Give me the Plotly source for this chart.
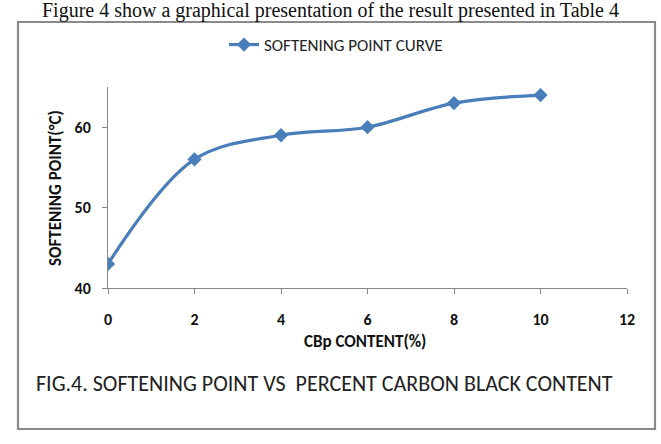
import plotly.graph_objects as go

cbp_content = [0, 2, 4, 6, 8, 10]
softening_point = [43, 56, 59, 60, 63, 64]
series_name = "SOFTENING POINT CURVE"
x_title = "CBp CONTENT(%)"
y_title = "SOFTENING POINT(°C)"
caption = "FIG.4. SOFTENING POINT VS  PERCENT CARBON BLACK CONTENT"
header = "Figure 4 show a graphical presentation of the result presented in Table 4"

W, H = 661, 444
L, R, T, B = 108, 627, 87, 288

def px(x):
    return (x - L) / (R - L)

def py(y):
    return (B - y) / (B - T)

FONT = "Carlito, Lato, Liberation Sans"
BLUE = "#4A7EBB"

fig = go.Figure()
fig.add_trace(go.Scatter(
    x=cbp_content, y=softening_point, name=series_name,
    mode="lines+markers",
    line=dict(color=BLUE, width=3.2, shape="spline", smoothing=1.0),
    marker=dict(symbol="diamond", size=11, color=BLUE),
    showlegend=True,
))

fig.update_layout(
    width=W, height=H,
    margin=dict(l=L, r=W - R, t=T, b=H - B),
    paper_bgcolor="white", plot_bgcolor="white",
    showlegend=True,
    legend=dict(orientation="h", x=px(224), y=py(45), xanchor="left", yanchor="middle",
                font=dict(family=FONT, size=17, color="#222"), bgcolor="rgba(0,0,0,0)",
                itemwidth=30, tracegroupgap=0),
    xaxis=dict(range=[0, 12], tickvals=[0, 2, 4, 6, 8, 10, 12], showgrid=False, zeroline=False,
               showline=True, linecolor="#868686", linewidth=1, ticks="outside", ticklen=5,
               tickcolor="#868686", ticklabelstandoff=12,
               tickfont=dict(family=FONT, size=16, color="#111", weight="bold")),
    yaxis=dict(range=[40, 65], tickvals=[40, 50, 60], showgrid=False, zeroline=False,
               showline=True, linecolor="#868686", linewidth=1, ticks="outside", ticklen=5,
               tickcolor="#868686", ticklabelstandoff=8,
               tickfont=dict(family=FONT, size=16, color="#111", weight="bold")),
    shapes=[dict(type="rect", xref="paper", yref="paper",
                 x0=px(18), x1=px(655), y0=py(429), y1=py(22),
                 line=dict(color="#8a8a8a", width=2.2), fillcolor="rgba(0,0,0,0)", layer="below")],
    annotations=[
        dict(text=header, xref="paper", yref="paper", x=px(330), y=py(10), xanchor="center",
             yanchor="middle", showarrow=False,
             font=dict(family="Liberation Serif", size=20, color="#111")),
        dict(text="<b>" + x_title + "</b>", xref="paper", yref="paper", x=px(365), y=py(341),
             xanchor="center", yanchor="middle", showarrow=False,
             font=dict(family=FONT, size=17, color="#111")),
        dict(text="<b>" + y_title + "</b>", xref="paper", yref="paper", x=px(55), y=py(188),
             xanchor="center", yanchor="middle", showarrow=False, textangle=-90,
             font=dict(family=FONT, size=17, color="#111")),
        dict(text=caption, xref="paper", yref="paper", x=px(34), y=py(383),
             xanchor="left", yanchor="middle", showarrow=False,
             font=dict(family=FONT, size=22, color="#222")),
    ],
)

fig.write_html("out.html")
